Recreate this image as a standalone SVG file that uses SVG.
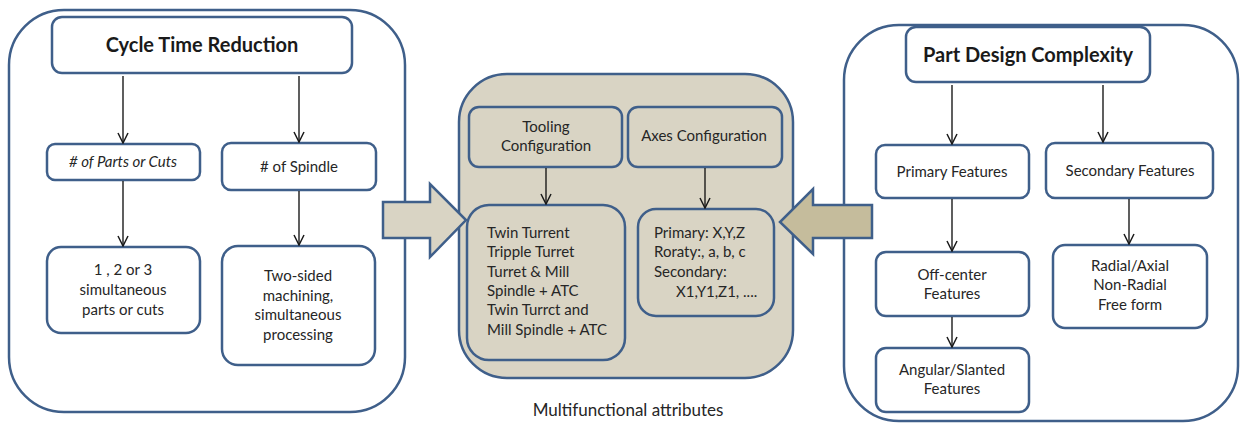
<svg xmlns="http://www.w3.org/2000/svg" width="1241" height="423" viewBox="0 0 1241 423">
<defs>
<marker id="v" viewBox="0 0 12 12" refX="11" refY="6" markerWidth="12" markerHeight="12" markerUnits="userSpaceOnUse" orient="auto">
<path d="M1,1 L11,6 L1,11" fill="none" stroke="#1a1a1a" stroke-width="1.5"/>
</marker>
<style>
.cont{fill:#ffffff;stroke:#3f5f8a;stroke-width:2.5}
.contb{fill:#d9d4c4;stroke:#3f5f8a;stroke-width:2.5}
.box{fill:#ffffff;stroke:#3f5f8a;stroke-width:2.5}
.boxb{fill:#d9d4c4;stroke:#3f5f8a;stroke-width:2.5}
.t{font-family:Lato,"Liberation Sans",sans-serif;font-size:15px;fill:#262626;text-anchor:middle}
.tl{font-family:Lato,"Liberation Sans",sans-serif;font-size:15px;fill:#262626}
.h{font-family:Lato,"Liberation Sans",sans-serif;font-size:20px;font-weight:bold;fill:#1a1a1a;text-anchor:middle}
.c{stroke:#1a1a1a;stroke-width:1.4;fill:none;marker-end:url(#v)}
</style>
</defs>

<g id="left-container"><rect class="cont" x="9" y="10" width="396" height="402" rx="55"/></g>
<g id="middle-container"><rect class="contb" x="459" y="74" width="334" height="304" rx="48"/></g>
<g id="right-container"><rect class="cont" x="844" y="25" width="394" height="396" rx="55"/></g>

<g id="cycle-time"><rect class="box" x="52" y="17" width="300" height="56" rx="10"/><text class="h" x="202" y="52">Cycle Time Reduction</text></g>
<g id="parts-cuts"><rect class="box" x="47" y="144" width="153" height="36" rx="8"/><text class="t" x="123" y="167" font-style="italic"># of Parts or Cuts</text></g>
<g id="spindle"><rect class="box" x="222" y="143" width="154" height="47" rx="9"/><text class="t" x="299" y="172"># of Spindle</text></g>
<g id="simultaneous"><rect class="box" x="47" y="247" width="153" height="86" rx="14"/><text class="t" x="123" y="275">1 , 2 or 3</text><text class="t" x="123" y="295">simultaneous</text><text class="t" x="123" y="315">parts or cuts</text></g>
<g id="two-sided"><rect class="box" x="222" y="246" width="153" height="119" rx="16"/><text class="t" x="298" y="281">Two-sided</text><text class="t" x="298" y="301">machining,</text><text class="t" x="298" y="320">simultaneous</text><text class="t" x="298" y="340">processing</text></g>

<g id="tooling"><rect class="boxb" x="469" y="107" width="153" height="60" rx="10"/><text class="t" x="546" y="132">Tooling</text><text class="t" x="546" y="151">Configuration</text></g>
<g id="axes"><rect class="boxb" x="628" y="107" width="154" height="60" rx="10"/><text class="t" x="704" y="141">Axes Configuration</text></g>
<g id="turrets"><rect class="boxb" x="467" y="205" width="158" height="155" rx="22"/>
<text class="tl" x="487" y="238">Twin Turrent</text><text class="tl" x="487" y="257">Tripple Turret</text><text class="tl" x="487" y="277">Turret &amp; Mill</text><text class="tl" x="487" y="296">Spindle + ATC</text><text class="tl" x="487" y="315">Twin Turrct and</text><text class="tl" x="487" y="335">Mill Spindle + ATC</text></g>
<g id="axes-list"><rect class="boxb" x="638" y="209" width="136" height="107" rx="18"/>
<text class="tl" x="654" y="238">Primary: X,Y,Z</text><text class="tl" x="654" y="257">Roraty:, a, b, c</text><text class="tl" x="654" y="277">Secondary:</text><text class="tl" x="676" y="297">X1,Y1,Z1, ....</text></g>
<g id="multifunctional-label"><text class="t" x="628" y="416" style="font-size:17px">Multifunctional attributes</text></g>

<g id="part-design"><rect class="box" x="906" y="27" width="244" height="55" rx="10"/><text class="h" x="1028" y="62">Part Design Complexity</text></g>
<g id="primary-features"><rect class="box" x="876" y="145" width="153" height="53" rx="9"/><text class="t" x="952" y="177">Primary Features</text></g>
<g id="secondary-features"><rect class="box" x="1046" y="143" width="167" height="55" rx="9"/><text class="t" x="1130" y="176">Secondary Features</text></g>
<g id="off-center"><rect class="box" x="876" y="252" width="153" height="64" rx="10"/><text class="t" x="952" y="280">Off-center</text><text class="t" x="952" y="299">Features</text></g>
<g id="angular"><rect class="box" x="876" y="348" width="153" height="64" rx="10"/><text class="t" x="952" y="375">Angular/Slanted</text><text class="t" x="952" y="394">Features</text></g>
<g id="radial"><rect class="box" x="1053" y="245" width="154" height="83" rx="12"/><text class="t" x="1130" y="271">Radial/Axial</text><text class="t" x="1130" y="290">Non-Radial</text><text class="t" x="1130" y="310">Free form</text></g>

<g id="block-arrows">
<path d="M383,202 L430,202 L430,184 L466,220 L430,257 L430,238 L383,238 Z" fill="#d9d4c4" stroke="#3f5f8a" stroke-width="2.5" stroke-linejoin="miter"/>
<path d="M872,205 L813,205 L813,189 L780,222 L813,254 L813,238 L872,238 Z" fill="#c5bc9c" stroke="#3f5f8a" stroke-width="2.5" stroke-linejoin="miter"/>
</g>

<g id="connectors">
<line class="c" x1="123" y1="76" x2="123" y2="143"/>
<line class="c" x1="299" y1="76" x2="299" y2="142"/>
<line class="c" x1="123" y1="181" x2="123" y2="246"/>
<line class="c" x1="299" y1="191" x2="299" y2="245"/>
<line class="c" x1="546" y1="168" x2="546" y2="204"/>
<line class="c" x1="705" y1="168" x2="705" y2="208"/>
<line class="c" x1="952" y1="85" x2="952" y2="144"/>
<line class="c" x1="1103" y1="85" x2="1103" y2="142"/>
<line class="c" x1="952" y1="199" x2="952" y2="251"/>
<line class="c" x1="1129" y1="199" x2="1129" y2="244"/>
<line class="c" x1="952" y1="317" x2="952" y2="347"/>
</g>
</svg>
